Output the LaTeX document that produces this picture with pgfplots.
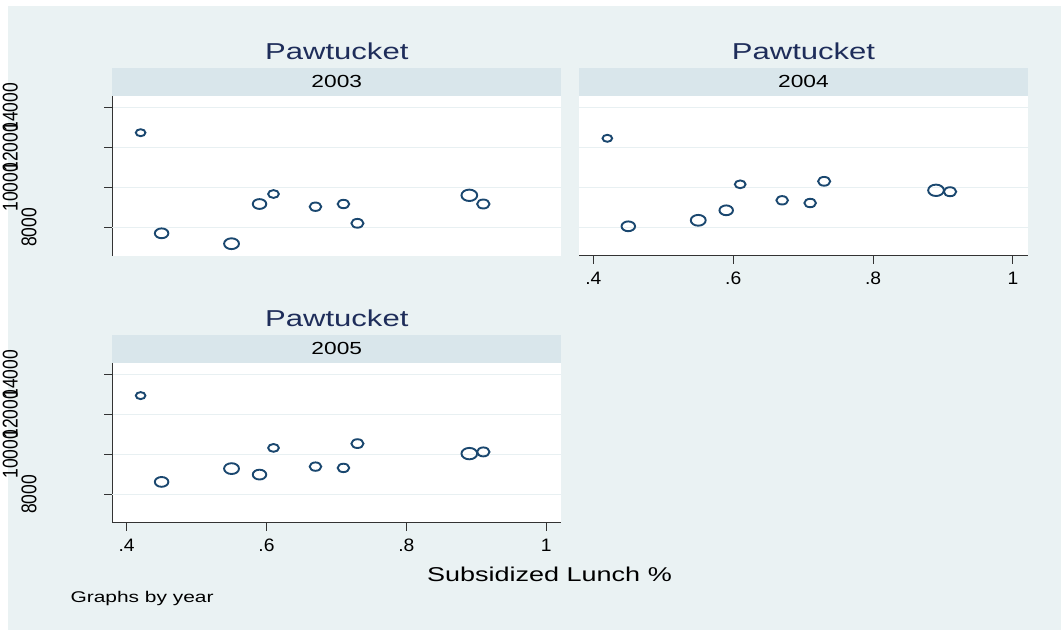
\documentclass[border=0pt]{standalone}
\usepackage{graphicx}
\usepackage{pgfplots}
\pgfplotsset{compat=1.18}
\usepackage{pgfplotstable}
\usepackage{fontspec}
\setmainfont{Liberation Sans}
\newfontfamily\fT[FakeStretch=1.35]{Liberation Sans}
\newfontfamily\fS[FakeStretch=1.3]{Liberation Sans}
\newfontfamily\fX[FakeStretch=1.07]{Liberation Sans}
\newfontfamily\fY{Liberation Sans}
\definecolor{bgc}{RGB}{234,242,243}
\definecolor{stripc}{RGB}{217,230,235}
\definecolor{gridc}{RGB}{232,240,242}
\definecolor{navy}{RGB}{26,71,111}
\definecolor{titc}{RGB}{30,45,90}

\pgfdeclareplotmark{ellip}{%
  \pgfpathellipse{\pgfpointorigin}{\pgfqpoint{1.38\pgfplotmarksize}{0pt}}{\pgfqpoint{0pt}{\pgfplotmarksize}}%
  \pgfusepathqstroke}

\pgfplotstableread{
x y r
0.42 12730 3.5
0.45 7700 4.9
0.55 7180 5.4
0.59 9165 4.9
0.61 9665 3.9
0.67 9030 4.2
0.71 9165 4.2
0.73 8200 4.4
0.89 9600 5.7
0.91 9165 4.5
}\dA
\pgfplotstableread{
x y r
0.42 12450 3.5
0.45 8050 4.9
0.55 8350 5.4
0.59 8850 4.9
0.61 10150 3.9
0.67 9350 4.2
0.71 9215 4.2
0.73 10300 4.4
0.89 9850 5.7
0.91 9780 4.5
}\dB
\pgfplotstableread{
x y r
0.42 12935 3.5
0.45 8620 4.9
0.55 9285 5.4
0.59 8985 4.9
0.61 10320 3.9
0.67 9385 4.2
0.71 9320 4.2
0.73 10535 4.4
0.89 10035 5.7
0.91 10120 4.5
}\dC

\pgfplotsset{
  panel/.style={
    scale only axis, width=449pt, height=160pt,
    xmin=0.3795, xmax=1.0215, ymin=6580, ymax=14580,
    scaled y ticks=false, scaled x ticks=false,
    axis background/.style={fill=white},
    axis x line*=bottom, axis y line*=left,
    axis line style={-, line width=1.1pt, draw=black!80},
    tick align=outside, major tick length=8pt,
    tick style={line width=1pt, draw=black!80},
    xtick={0.4,0.6,0.8,1}, xticklabels={.4,.6,.8,1},
    ytick={10000,12000,14000},
    yticklabels={\scalebox{1}[1.22]{10000},\scalebox{1}[1.22]{12000},\scalebox{1}[1.22]{14000}},
    extra y ticks={8000},
    extra y tick labels={\scalebox{1}[1.22]{8000}},
    extra y tick style={ymajorgrids=true, yticklabel style={yshift=-18.7pt}},
    ymajorgrids, grid style={draw=gridc, line width=1.3pt},
    xticklabel style={font=\fX\fontsize{18}{18}\selectfont, text=black, yshift=-5pt},
    yticklabel style={font=\fY\fontsize{17.5}{17.5}\selectfont, text=black, anchor=center, xshift=-94pt, rotate=90},
    title style={font=\fT\fontsize{23}{23}\selectfont, text=titc, at={(0.5,1)}, anchor=base, yshift=30.4pt},
    title=Pawtucket,
    clip=false,
  },
  pts/.style={scatter, only marks, mark=ellip, line width=1.9pt,
    scatter/use mapped color={draw=navy, fill=none},
    visualization depends on={\thisrow{r} \as \rad},
    scatter/@pre marker code/.append style={/tikz/mark size=\rad}},
}
\newcommand\strip[1]{%
  \fill[stripc] (rel axis cs:0,1) rectangle ([yshift=28pt]rel axis cs:1,1);
  \node[font=\fS\fontsize{17.5}{17.5}\selectfont, anchor=base, text=black] at ([yshift=7.8pt]rel axis cs:0.5,1) {#1};}

\begin{document}
\begin{tikzpicture}
\fill[white] (0,0) rectangle (1061pt,-630pt);
\fill[bgc] (8pt,-6pt) rectangle (1061pt,-630pt);

% 2003
\begin{axis}[panel, at={(112.3pt,-255.7pt)}, anchor=south west,
  xtick=\empty, x axis line style={draw=none}]
\addplot[pts] table[x=x, y=y, meta=r] {\dA};
\strip{2003}
\end{axis}

% 2004
\begin{axis}[panel, at={(579pt,-255.7pt)}, anchor=south west,
  ytick={8000,10000,12000,14000}, yticklabels={}, extra y ticks={},
  ytick style={draw=none}, y axis line style={draw=none}]
\addplot[pts] table[x=x, y=y, meta=r] {\dB};
\strip{2004}
\end{axis}

% 2005
\begin{axis}[panel, at={(112.3pt,-522.7pt)}, anchor=south west]
\addplot[pts] table[x=x, y=y, meta=r] {\dC};
\strip{2005}
\end{axis}

\node[font=\fT\fontsize{20}{20}\selectfont, anchor=base, text=black] at (549.5pt,-581.7pt) {Subsidized Lunch \%};
\node[font=\fT\fontsize{15.5}{15.5}\selectfont, anchor=base west, text=black] at (67pt,-602.7pt) {Graphs by year};

\pgfresetboundingbox
\path[use as bounding box] (0,0) rectangle (1061pt,-630pt);
\end{tikzpicture}
\end{document}
